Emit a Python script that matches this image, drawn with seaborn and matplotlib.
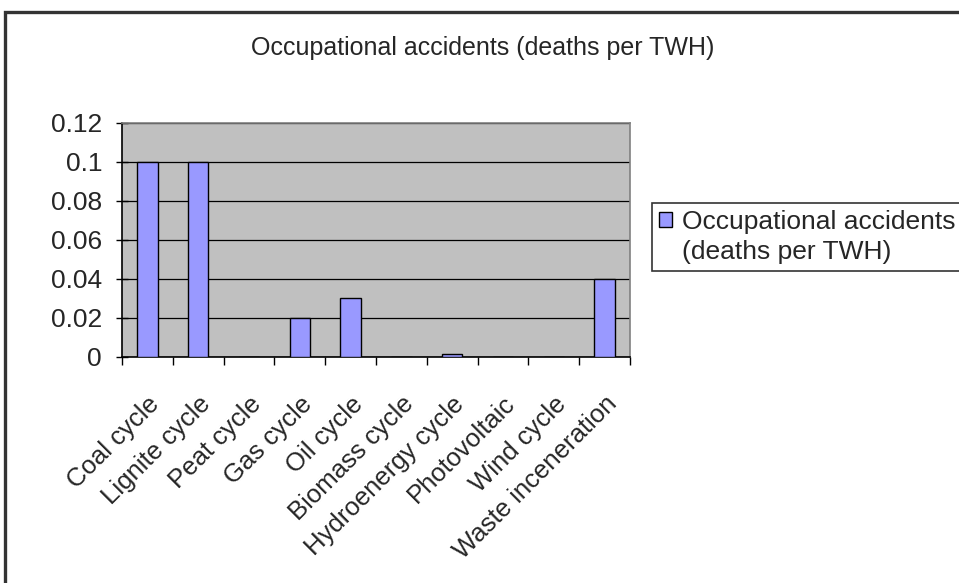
import matplotlib
matplotlib.use("Agg")
import matplotlib.pyplot as plt
import matplotlib.transforms as mtransforms
import seaborn as sns
from matplotlib.patches import Rectangle, Patch

categories = [
    "Coal cycle",
    "Lignite cycle",
    "Peat cycle",
    "Gas cycle",
    "Oil cycle",
    "Biomass cycle",
    "Hydroenergy cycle",
    "Photovoltaic",
    "Wind cycle",
    "Waste inceneration",
]
deaths_per_twh = [0.1, 0.1, 0.0, 0.02, 0.03, 0.0, 0.0015, 0.0, 0.0, 0.04]
y_ticks = [0, 0.02, 0.04, 0.06, 0.08, 0.1, 0.12]
y_tick_labels = ["0", "0.02", "0.04", "0.06", "0.08", "0.1", "0.12"]

title = "Occupational accidents (deaths per TWH)"
legend_lines = ["Occupational accidents", "(deaths per TWH)"]

sns.set_style("white")
plt.rcParams["font.family"] = ["Liberation Sans", "DejaVu Sans"]

fig = plt.figure(figsize=(9.59, 5.83), dpi=100)

# outer chart frame, cut off at the right and bottom like the screenshot
fig.patches.append(
    Rectangle((0.0052, -0.05), 1.2, 1.029, transform=fig.transFigure,
              fill=False, edgecolor="#333333", linewidth=2.4, zorder=0)
)

ax = fig.add_axes([0.1272, 0.3877, 0.5297, 0.4014])
ax.set_facecolor("#C0C0C0")

sns.barplot(x=categories, y=deaths_per_twh, color="#9999FF", edgecolor="black",
            linewidth=1, width=0.4, saturation=1, label=legend_lines[0], ax=ax,
            zorder=3)

ax.set_ylim(0, 0.12)
ax.set_xlim(-0.5, len(categories) - 0.5)
ax.set_yticks(y_ticks)
ax.set_yticklabels(y_tick_labels, fontsize=19)
ax.yaxis.grid(True, color="black", linewidth=0.9, zorder=1)
ax.set_axisbelow(True)

ax.set_xticks([i - 0.5 for i in range(len(categories) + 1)], minor=True)
ax.set_xticks(range(len(categories)))
ax.set_xticklabels(categories, rotation=45, ha="right", va="top",
                   rotation_mode="anchor", fontsize=18.5)
shift = mtransforms.ScaledTranslation(-16 / 100, 0, fig.dpi_scale_trans)
for lbl in ax.get_xticklabels():
    lbl.set_transform(lbl.get_transform() + shift)
ax.tick_params(axis="x", which="major", length=0, pad=25)
ax.tick_params(axis="x", which="minor", length=6, width=1, direction="out",
               color="black", bottom=True)
ax.tick_params(axis="y", length=8.6, width=1, direction="inout", color="black",
               left=True, pad=10)

for side in ["left", "bottom", "right", "top"]:
    ax.spines[side].set_visible(True)
    ax.spines[side].set_color("#808080" if side in ("right", "top") else "black")
    ax.spines[side].set_linewidth(1.2)

ax.set_xlabel("")
ax.set_ylabel("")

fig.text(0.503, 0.918, title, ha="center", va="center", fontsize=18)

handles, labels = ax.get_legend_handles_labels()
if ax.legend_:
    ax.legend_.remove()
blank = Patch(facecolor="none", edgecolor="none")
leg = fig.legend([handles[0], blank], legend_lines, loc="upper left",
                 bbox_to_anchor=(652 / 959, 1 - 203 / 583), fontsize=19,
                 frameon=True, fancybox=False, edgecolor="black",
                 handlelength=0.5, handleheight=0.5, handletextpad=0.4,
                 borderpad=0.25, borderaxespad=0, labelspacing=0.25)
leg.get_frame().set_linewidth(1.2)

fig.savefig("out.png", dpi=100)
